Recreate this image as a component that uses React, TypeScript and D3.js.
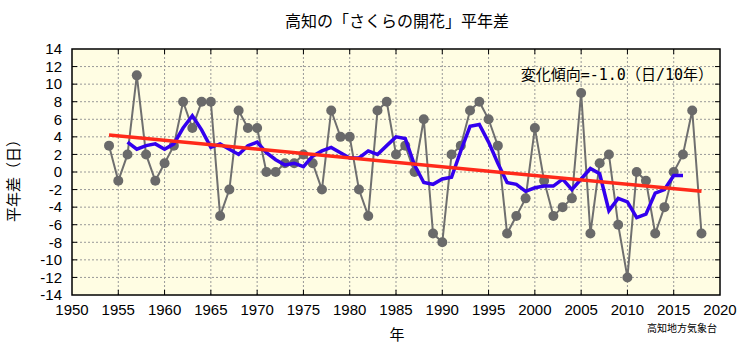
import { useEffect, useRef } from 'react';
import * as d3 from 'd3';

// 高知 さくら開花日の平年差 (日)
const years: number[] = [
    1954, 1955, 1956, 1957, 1958, 1959, 1960, 1961, 1962, 1963,
    1964, 1965, 1966, 1967, 1968, 1969, 1970, 1971, 1972, 1973,
    1974, 1975, 1976, 1977, 1978, 1979, 1980, 1981, 1982, 1983,
    1984, 1985, 1986, 1987, 1988, 1989, 1990, 1991, 1992, 1993,
    1994, 1995, 1996, 1997, 1998, 1999, 2000, 2001, 2002, 2003,
    2004, 2005, 2006, 2007, 2008, 2009, 2010, 2011, 2012, 2013,
    2014, 2015, 2016, 2017, 2018
];
const anomaly: number[] = [
    3, -1, 2, 11, 2, -1, 1, 3, 8, 5,
    8, 8, -5, -2, 7, 5, 5, 0, 0, 1,
    1, 2, 1, -2, 7, 4, 4, -2, -5, 7,
    8, 2, 3, 0, 6, -7, -8, 2, 3, 7,
    8, 6, 3, -7, -5, -3, 5, -1, -5, -4,
    -3, 9, -7, 1, 2, -6, -12, 0, -1, -7,
    -4, 0, 2, 7, -7
];

// 5年移動平均 (青線)
const avgYears: number[] = [
    1956, 1957, 1958, 1959, 1960, 1961, 1962, 1963, 1964, 1965,
    1966, 1967, 1968, 1969, 1970, 1971, 1972, 1973, 1974, 1975,
    1976, 1977, 1978, 1979, 1980, 1981, 1982, 1983, 1984, 1985,
    1986, 1987, 1988, 1989, 1990, 1991, 1992, 1993, 1994, 1995,
    1996, 1997, 1998, 1999, 2000, 2001, 2002, 2003, 2004, 2005,
    2006, 2007, 2008, 2009, 2010, 2011, 2012, 2013, 2014, 2015,
    2016
];
const avgValues: number[] = [
    3.4, 2.6, 3.0, 3.2, 2.6, 3.2, 5.0, 6.4, 4.8, 2.8,
    3.2, 2.6, 2.0, 3.0, 3.4, 2.2, 1.4, 0.8, 1.0, 0.6,
    1.8, 2.4, 2.8, 2.2, 1.6, 1.6, 2.4, 2.0, 3.0, 4.0,
    3.8, 0.8, -1.2, -1.4, -0.8, -0.6, 2.4, 5.2, 5.4, 3.4,
    1.0, -1.2, -1.4, -2.2, -1.8, -1.6, -1.6, -0.8, -2.0, -0.8,
    0.4, -0.2, -4.4, -3.0, -3.4, -5.2, -4.8, -2.4, -2.0, -0.4,
    -0.4
];

// 長期変化傾向 (赤線)
const trendYears: number[] = [1954, 2018];
const trendValues: number[] = [4.2, -2.2];

const xTicks: number[] = [1950, 1955, 1960, 1965, 1970, 1975, 1980, 1985, 1990, 1995, 2000, 2005, 2010, 2015, 2020];
const yTicks: number[] = [14, 12, 10, 8, 6, 4, 2, 0, -2, -4, -6, -8, -10, -12, -14];

export default function App() {
    const svgRef = useRef<SVGSVGElement>(null);

    useEffect(() => {
        const width = 750;
        const height = 350;
        const svg = d3.select(svgRef.current);
        svg.selectAll("*").remove();
        svg.attr("width", width).attr("height", height);

        const margin = { top: 49, right: 30, bottom: 55, left: 72 };
        const w = width - margin.left - margin.right;
        const h = height - margin.top - margin.bottom;
        const font = "'Liberation Sans', Arial, 'Noto Sans CJK JP', sans-serif";
        const jp = "'Noto Sans CJK JP', sans-serif";

        const x = d3.scaleLinear().domain([1950, 2020]).range([0, w]);
        const y = d3.scaleLinear().domain([-14, 14]).range([h, 0]);

        const g = svg.append("g").attr("transform", `translate(${margin.left},${margin.top})`);

        // 背景
        g.append("rect")
            .attr("width", w)
            .attr("height", h)
            .attr("fill", "#fffde3");

        // グリッド
        g.append("g")
            .selectAll("line")
            .data(xTicks.slice(1, -1))
            .enter().append("line")
            .attr("x1", d => x(d)).attr("x2", d => x(d))
            .attr("y1", 0).attr("y2", h)
            .attr("stroke", "#999")
            .attr("stroke-width", 1)
            .attr("stroke-dasharray", "2,2");

        g.append("g")
            .selectAll("line")
            .data(yTicks.slice(1, -1))
            .enter().append("line")
            .attr("x1", 0).attr("x2", w)
            .attr("y1", d => y(d)).attr("y2", d => y(d))
            .attr("stroke", "#999")
            .attr("stroke-width", 1)
            .attr("stroke-dasharray", "2,2");

        // 目盛り (内側)
        const tickLen = 5;
        xTicks.slice(1, -1).forEach(t => {
            g.append("line").attr("x1", x(t)).attr("x2", x(t)).attr("y1", 0).attr("y2", tickLen).attr("stroke", "#000");
            g.append("line").attr("x1", x(t)).attr("x2", x(t)).attr("y1", h).attr("y2", h - tickLen).attr("stroke", "#000");
        });
        yTicks.slice(1, -1).forEach(t => {
            g.append("line").attr("x1", 0).attr("x2", tickLen).attr("y1", y(t)).attr("y2", y(t)).attr("stroke", "#000");
            g.append("line").attr("x1", w).attr("x2", w - tickLen).attr("y1", y(t)).attr("y2", y(t)).attr("stroke", "#000");
        });

        // 目盛りラベル
        g.append("g")
            .selectAll("text")
            .data(yTicks)
            .enter().append("text")
            .attr("x", -10)
            .attr("y", d => y(d))
            .attr("dy", "0.35em")
            .attr("text-anchor", "end")
            .style("font-family", font)
            .style("font-size", "15px")
            .text(d => d);

        g.append("g")
            .selectAll("text")
            .data(xTicks)
            .enter().append("text")
            .attr("x", d => x(d))
            .attr("y", h + 20)
            .attr("text-anchor", "middle")
            .style("font-family", font)
            .style("font-size", "15px")
            .text(d => d);

        // 観測値
        const line = d3.line<number>()
            .x((_, i) => x(years[i]))
            .y(d => y(d));

        g.append("path")
            .datum(anomaly)
            .attr("fill", "none")
            .attr("stroke", "#6f6f6f")
            .attr("stroke-width", 2)
            .attr("d", line);

        g.selectAll(".dot")
            .data(anomaly)
            .enter().append("circle")
            .attr("class", "dot")
            .attr("cx", (_, i) => x(years[i]))
            .attr("cy", d => y(d))
            .attr("r", 5)
            .attr("fill", "#6a6a6a");

        // 5年移動平均
        const avgLine = d3.line<number>()
            .x((_, i) => x(avgYears[i]))
            .y(d => y(d));

        g.append("path")
            .datum(avgValues)
            .attr("fill", "none")
            .attr("stroke", "#3300ee")
            .attr("stroke-width", 3.5)
            .attr("d", avgLine);

        // 変化傾向
        const trendLine = d3.line<number>()
            .x((_, i) => x(trendYears[i]))
            .y(d => y(d));

        g.append("path")
            .datum(trendValues)
            .attr("fill", "none")
            .attr("stroke", "#ff2a1a")
            .attr("stroke-width", 3.5)
            .attr("d", trendLine);

        // 枠
        g.append("rect")
            .attr("width", w)
            .attr("height", h)
            .attr("fill", "none")
            .attr("stroke", "#000")
            .attr("stroke-width", 1.5);

        // 変化傾向テキスト
        g.append("text")
            .attr("x", w - 7)
            .attr("y", 31)
            .attr("text-anchor", "end")
            .style("font-family", "'DejaVu Sans Mono', 'Noto Sans CJK JP', monospace")
            .style("font-size", "15px")
            .text("変化傾向=-1.0（日/10年）");

        // タイトル
        svg.append("text")
            .attr("x", 397)
            .attr("y", 27)
            .attr("text-anchor", "middle")
            .style("font-family", jp)
            .style("font-size", "16px")
            .text("高知の「さくらの開花」平年差");

        // 軸ラベル
        svg.append("text")
            .attr("transform", `translate(19,${margin.top + h / 2 + 5}) rotate(-90)`)
            .attr("text-anchor", "middle")
            .style("font-family", jp)
            .style("font-size", "15px")
            .text("平年差（日）");

        svg.append("text")
            .attr("x", 397)
            .attr("y", 340)
            .attr("text-anchor", "middle")
            .style("font-family", jp)
            .style("font-size", "15px")
            .text("年");

        svg.append("text")
            .attr("x", 682)
            .attr("y", 332)
            .attr("text-anchor", "middle")
            .style("font-family", jp)
            .style("font-size", "10px")
            .text("高知地方気象台");
    }, []);

    return <svg ref={svgRef} style={{ position: "absolute", left: 0, top: 0 }}></svg>;
}
